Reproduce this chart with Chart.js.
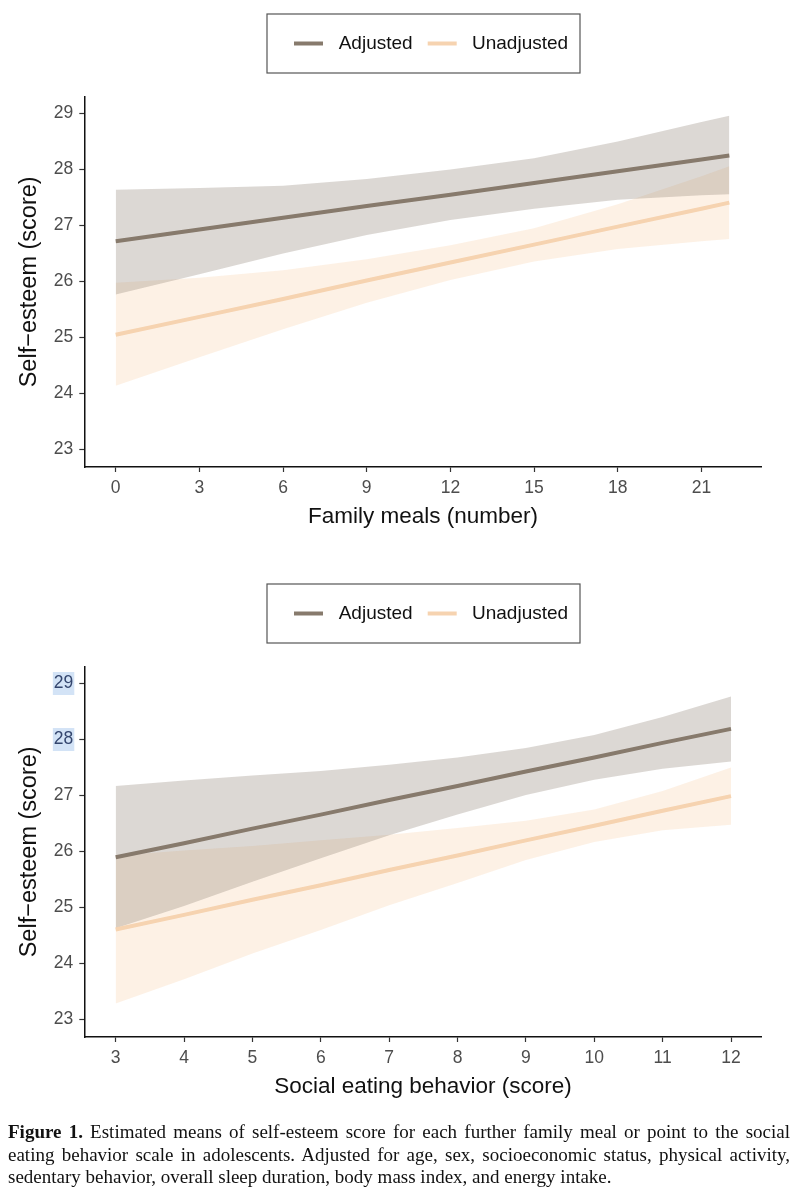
<!DOCTYPE html>
<html>
<head>
<meta charset="utf-8">
<script src="https://cdn.jsdelivr.net/npm/chart.js@4.4.1/dist/chart.umd.min.js"></script>
<style>
  body { margin: 0; background: #fff; width: 803px; height: 1200px; overflow: hidden; position: relative; }
  canvas { position: absolute; left: 0; }
  #mealsChart { top: 0; }
  #socialChart { top: 570px; }
  .caption { position: absolute; left: 8px; top: 1121px; width: 782px; font-family: "Liberation Serif", "Times New Roman", serif; font-size: 19px; line-height: 22.5px; color: #111; }
  .caption div { white-space: nowrap; }
  .caption .j { text-align: justify; text-align-last: justify; }
</style>
</head>
<body>
<canvas id="mealsChart" width="803" height="570"></canvas>
<canvas id="socialChart" width="803" height="570"></canvas>
<div class="caption">
  <div class="j"><b>Figure 1.</b> Estimated means of self-esteem score for each further family meal or point to the social</div>
  <div class="j">eating behavior scale in adolescents. Adjusted for age, sex, socioeconomic status, physical activity,</div>
  <div>sedentary behavior, overall sleep duration, body mass index, and energy intake.</div>
</div>
<script>
// family meals panel
var mealsX = [0, 3, 6, 9, 12, 15, 18, 21, 22];
var mealsAdj = [26.72, 26.93, 27.14, 27.35, 27.55, 27.76, 27.97, 28.18, 28.25];
var mealsAdjHi = [27.64, 27.67, 27.71, 27.83, 28.0, 28.2, 28.5, 28.85, 28.96];
var mealsAdjLo = [25.77, 26.13, 26.5, 26.83, 27.1, 27.3, 27.46, 27.54, 27.56];
var mealsUnadj = [25.05, 25.37, 25.69, 26.02, 26.34, 26.66, 26.98, 27.30, 27.41];
var mealsUnadjHi = [25.98, 26.07, 26.2, 26.4, 26.65, 26.95, 27.38, 27.88, 28.06];
var mealsUnadjLo = [24.14, 24.65, 25.15, 25.62, 26.03, 26.36, 26.58, 26.72, 26.76];
var mealsTicks = [0, 3, 6, 9, 12, 15, 18, 21];

// social eating panel
var socialX = [3, 4, 5, 6, 7, 8, 9, 10, 11, 12];
var socialAdj = [25.90, 26.15, 26.41, 26.66, 26.92, 27.17, 27.43, 27.68, 27.94, 28.19];
var socialAdjHi = [27.17, 27.27, 27.36, 27.44, 27.55, 27.68, 27.85, 28.08, 28.4, 28.77];
var socialAdjLo = [24.63, 25.03, 25.46, 25.88, 26.29, 26.66, 27.01, 27.28, 27.48, 27.61];
var socialUnadj = [24.61, 24.87, 25.14, 25.40, 25.67, 25.93, 26.20, 26.46, 26.73, 26.99];
var socialUnadjHi = [25.93, 26.02, 26.1, 26.2, 26.3, 26.42, 26.55, 26.75, 27.08, 27.5];
var socialUnadjLo = [23.29, 23.72, 24.18, 24.6, 25.04, 25.44, 25.85, 26.17, 26.38, 26.48];
var socialTicks = [3, 4, 5, 6, 7, 8, 9, 10, 11, 12];

var esteemTicks = [23, 24, 25, 26, 27, 28, 29];
var seriesLabels = ['Adjusted', 'Unadjusted'];

var adjColor = '#877a6c';
var adjFill = 'rgba(138,125,112,0.3)';
var unadjColor = '#f6d3b0';
var unadjFill = 'rgba(247,209,170,0.3)';

Chart.defaults.font.family = '"Liberation Sans", Arial, Helvetica, sans-serif';

function pts(xs, ys) {
	return xs.map(function (x, i) { return { x: x, y: ys[i] }; });
}

// boxed legend above the plot, like ggplot's legend.box
var legendBox = {
	id: 'legendBox',
	afterDraw: function (chart) {
		var ctx = chart.ctx;
		var area = chart.chartArea;
		var left = (area.left + area.right) / 2 - 156;
		var top = 14;
		var offsets = [[27, 71.7], [160.7, 205]];
		ctx.save();
		ctx.strokeStyle = '#555';
		ctx.lineWidth = 1.2;
		ctx.strokeRect(left, top, 313, 59);
		ctx.font = '19px "Liberation Sans", Arial, sans-serif';
		ctx.textBaseline = 'middle';
		chart.data.datasets.filter(function (d) { return d.inLegend; }).forEach(function (d, i) {
			ctx.strokeStyle = d.borderColor;
			ctx.lineWidth = 4;
			ctx.beginPath();
			ctx.moveTo(left + offsets[i][0], top + 29.5);
			ctx.lineTo(left + offsets[i][0] + 29, top + 29.5);
			ctx.stroke();
			ctx.fillStyle = '#111';
			ctx.fillText(d.label, left + offsets[i][1], top + 30);
		});
		ctx.restore();
	},
};

function makeChart(id, xs, adj, adjHi, adjLo, unadj, unadjHi, unadjLo, xTicks, xMin, xMax, xTitle, marked) {
	return new Chart(document.getElementById(id), {
		type: 'line',
		data: {
			datasets: [
				{ label: seriesLabels[0], inLegend: true, data: pts(xs, adj), borderColor: adjColor, borderWidth: 4, pointRadius: 0, fill: false },
				{ label: seriesLabels[1], inLegend: true, data: pts(xs, unadj), borderColor: unadjColor, borderWidth: 4, pointRadius: 0, fill: false },
				{ label: 'adjHi', data: pts(xs, adjHi), borderWidth: 0, pointRadius: 0, backgroundColor: adjFill, fill: '+1' },
				{ label: 'adjLo', data: pts(xs, adjLo), borderWidth: 0, pointRadius: 0, fill: false },
				{ label: 'unadjHi', data: pts(xs, unadjHi), borderWidth: 0, pointRadius: 0, backgroundColor: unadjFill, fill: '+1' },
				{ label: 'unadjLo', data: pts(xs, unadjLo), borderWidth: 0, pointRadius: 0, fill: false },
			],
		},
		options: {
			responsive: false,
			animation: false,
			events: [],
			layout: { padding: { left: 15.3, right: 41.3, top: 96.7, bottom: 39.4 } },
			plugins: {
				legend: { display: false },
				tooltip: { enabled: false },
			},
			scales: {
				x: {
					type: 'linear',
					min: xMin,
					max: xMax,
					afterBuildTicks: function (s) { s.ticks = xTicks.map(function (v) { return { value: v }; }); },
					grid: { drawOnChartArea: false, tickLength: 5, tickColor: '#333', tickWidth: 1.2 },
					border: { display: true, color: '#111', width: 1.5 },
					ticks: { color: '#4d4d4d', font: { size: 17.5 }, padding: 5.3, maxRotation: 0, autoSkip: false },
					title: { display: true, text: xTitle, color: '#111', font: { size: 22.5 }, padding: { top: 0, bottom: 0 } },
				},
				y: {
					min: 22.69,
					max: 29.3,
					afterBuildTicks: function (s) { s.ticks = esteemTicks.map(function (v) { return { value: v }; }); },
					afterFit: function (s) { s.width = 69; },
					grid: { drawOnChartArea: false, tickLength: 5, tickColor: '#333', tickWidth: 1.2 },
					border: { display: true, color: '#111', width: 1.5 },
					ticks: {
						font: { size: 17.5 },
						padding: 6,
						color: function (c) { return marked.indexOf(c.tick.value) >= 0 ? '#34466e' : '#4d4d4d'; },
						showLabelBackdrop: marked.length > 0,
						backdropPadding: 1,
						backdropColor: function (c) { return marked.indexOf(c.tick.value) >= 0 ? '#d3e3f6' : 'rgba(255,255,255,0)'; },
					},
					title: { display: true, text: 'Self\u2212esteem (score)', color: '#111', font: { size: 23.5 }, padding: { top: 0, bottom: 0 } },
				},
			},
		},
		plugins: [legendBox],
	});
}

var mealsChart = makeChart('mealsChart', mealsX, mealsAdj, mealsAdjHi, mealsAdjLo, mealsUnadj, mealsUnadjHi, mealsUnadjLo,
	mealsTicks, -1.126, 23.16, 'Family meals (number)', []);
var socialChart = makeChart('socialChart', socialX, socialAdj, socialAdjHi, socialAdjLo, socialUnadj, socialUnadjHi, socialUnadjLo,
	socialTicks, 2.541, 12.449, 'Social eating behavior (score)', [28, 29]);
</script>
</body>
</html>
